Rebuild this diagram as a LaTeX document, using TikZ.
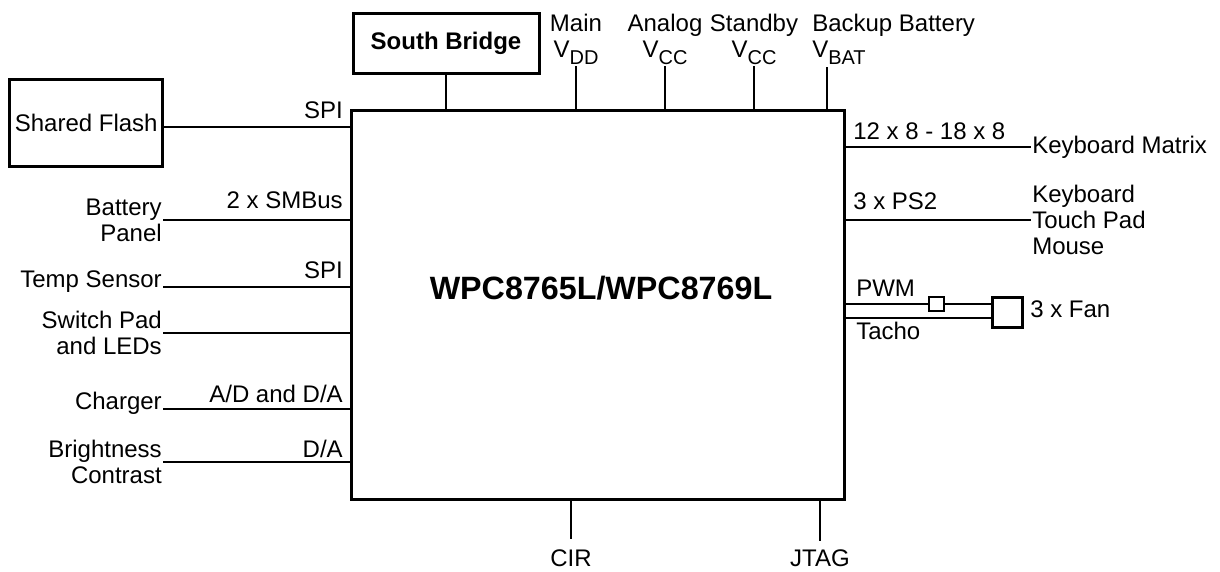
\documentclass[tikz,border=0pt]{standalone}
\usepackage{fontspec}
\setmainfont{Liberation Sans}
\usepackage{tikz}

\newcommand{\lowtxt}[1]{\raisebox{-0.3em}{\fontsize{15}{15}\selectfont #1}}

\begin{document}
\begin{tikzpicture}[x=0.75pt,y=0.75pt,yscale=-1,xscale=1,
    every node/.style={font=\fontsize{18}{19.5}\selectfont, inner sep=0.75pt},
    bigbox/.style={draw, line width=2.25pt, inner sep=0pt},
    smallbox/.style={draw, line width=1.4pt, inner sep=0pt, minimum size=11pt},
    wire/.style={line width=1.4pt}]
    \useasboundingbox (0,0) rectangle (1220,571);

    % chip
    \node [bigbox, minimum width=370pt, minimum height=292pt] (chip) at (598.25,304.75) {};
    \node [font=\fontsize{24.2}{28}\selectfont\bfseries] (title) at (601,288) {WPC8765L/WPC8769L};

    % South Bridge
    \node [bigbox, minimum width=139.5pt, minimum height=45pt, font=\fontsize{18}{20}\selectfont\bfseries] (sb) at (446,43) {South Bridge};
    \draw [wire] (sb.south) -- (sb.south |- chip.north);

    % Shared Flash
    \node [bigbox, minimum width=115pt, minimum height=65.6pt] (flash) at (86.25,123.25) {Shared Flash};
    \coordinate (flashout) at (flash.east |- 0,127);
    \draw [wire] (flashout) -- (chip.west |- flashout);
    \node [anchor=south east] (spia) at (344,120) {SPI};

    % supplies
    \node [anchor=south, align=center] (vdd) at (576,66) {Main\\V\lowtxt{DD}};
    \node [anchor=south, align=center] (vcca) at (665,66) {Analog\\V\lowtxt{CC}};
    \node [anchor=south, align=center] (vccs) at (754,66) {Standby\\V\lowtxt{CC}};
    \node [anchor=south west, align=left] (vbat) at (811,66) {Backup Battery\\V\lowtxt{BAT}};
    \coordinate (vbattop) at (827,67);
    \draw [wire] (vdd.south) -- (vdd.south |- chip.north);
    \draw [wire] (vcca.south) -- (vcca.south |- chip.north);
    \draw [wire] (vccs.south) -- (vccs.south |- chip.north);
    \draw [wire] (vbattop) -- (vbattop |- chip.north);

    % left side
    \node [anchor=east, align=right] (bat) at (163,220) {Battery\\Panel};
    \draw [wire] (bat.east) -- (chip.west |- bat.east);
    \node [anchor=south east] (smb) at (344,210) {2 x SMBus};

    \node [anchor=base east] (temp) at (163,287) {Temp Sensor};
    \draw [wire] (temp.base east) -- (chip.west |- temp.base east);
    \node [anchor=south east] (spib) at (344,280) {SPI};

    \node [anchor=east, align=right] (sw) at (163,333) {Switch Pad\\and LEDs};
    \draw [wire] (sw.east) -- (chip.west |- sw.east);

    \node [anchor=base east] (chg) at (163,409) {Charger};
    \draw [wire] (chg.base east) -- (chip.west |- chg.base east);
    \node [anchor=south east] (adda) at (344,404) {A/D and D/A};

    \node [anchor=east, align=right] (bright) at (163,462) {Brightness\\Contrast};
    \draw [wire] (bright.east) -- (chip.west |- bright.east);
    \node [anchor=south east] (da) at (344,459) {D/A};

    % right side
    \node [anchor=west] (kbm) at (1031,147) {Keyboard Matrix};
    \draw [wire] (chip.east |- kbm.west) -- (kbm.west);
    \node [anchor=south west] (mtx) at (852,141) {12 x 8 - 18 x 8};

    \node [anchor=west, align=left] (kbd) at (1031,220) {Keyboard\\Touch Pad\\Mouse};
    \draw [wire] (chip.east |- kbd.west) -- (kbd.west);
    \node [anchor=south west] (ps2) at (852,211) {3 x PS2};

    \node [smallbox] (pwmbox) at (936.5,304) {};
    \node [bigbox, minimum size=22.5pt] (fan) at (1007,312) {};
    \coordinate (tachoin) at (992,318);
    \draw [wire] (chip.east |- pwmbox.west) -- (pwmbox.west);
    \draw [wire] (pwmbox.east) -- (fan.west |- pwmbox.east);
    \draw [wire] (chip.east |- tachoin) -- (tachoin);
    \node [anchor=west] (fanlbl) at (1029,309) {3 x Fan};
    \node [anchor=south west] (pwm) at (855,298) {PWM};
    \node [anchor=north west] (tacho) at (855,321) {Tacho};

    % bottom
    \node (cir) at (571,558) {CIR};
    \node (jtag) at (820,558) {JTAG};
    \coordinate (cirend) at (571,539);
    \coordinate (jtagend) at (820,541);
    \draw [wire] (chip.south -| cirend) -- (cirend);
    \draw [wire] (chip.south -| jtagend) -- (jtagend);

\end{tikzpicture}
\end{document}
